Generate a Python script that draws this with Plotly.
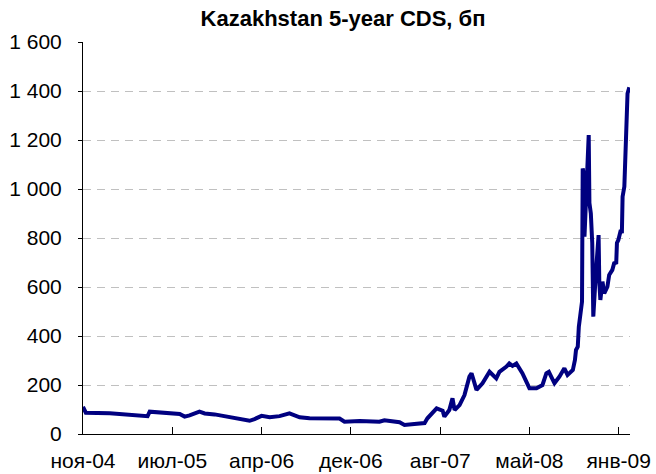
import pandas as pd
import plotly.graph_objects as go

# ---- data ----
start_date = "2004-11-20"
day_offsets = [0, 3, 8, 76, 132, 183, 189, 231, 274, 288, 302, 330, 345, 373, 401, 444, 472,
               486, 506, 529, 557, 585, 614, 642, 727, 741, 784, 840, 854, 897, 911, 939, 968,
               976, 990, 1002, 1019, 1024, 1038, 1047, 1053, 1067, 1081, 1095, 1101, 1115, 1132,
               1152, 1171, 1180, 1200, 1208, 1217, 1228, 1245, 1265, 1285, 1302, 1313, 1320,
               1336, 1350, 1364, 1373, 1388, 1394, 1397, 1402, 1405, 1410, 1414, 1416, 1419,
               1421, 1426, 1433, 1435, 1439, 1443, 1446, 1453, 1461, 1463, 1466, 1472, 1477,
               1486, 1491, 1500, 1505, 1511, 1513, 1517, 1524, 1527, 1529, 1534, 1536, 1538,
               1540, 1543, 1548]
cds_bp = [111, 98, 87, 85, 80, 73, 91, 86, 82, 71, 76, 91, 84, 80, 73, 60, 54,
          61, 74, 68, 73, 84, 68, 64, 63, 50, 53, 50, 56, 48, 37, 41, 45,
          64, 84, 105, 95, 71, 98, 146, 98, 118, 159, 234, 248, 180, 207,
          254, 227, 254, 275, 288, 278, 288, 248, 187, 187, 200, 248, 254,
          207, 234, 268, 241, 261, 302, 343, 356, 438, 506, 540, 1084, 1060,
          805, 1000, 1220, 943, 900, 780, 479, 650, 812, 620, 547, 622, 574,
          601, 649, 670, 697, 700, 780, 792, 833, 820, 969, 1010, 1132, 1140,
          1300, 1390, 1415]

tick_dates = ["2004-11-20", "2005-07-31", "2006-04-10", "2006-12-19",
              "2007-08-29", "2008-05-08", "2009-01-16"]
tick_labels = ["ноя-04", "июл-05", "апр-06", "дек-06", "авг-07", "май-08", "янв-09"]
y_ticks = [0, 200, 400, 600, 800, 1000, 1200, 1400, 1600]

title_text = "Kazakhstan 5-year CDS, бп"

dates = pd.Timestamp(start_date) + pd.to_timedelta(day_offsets, unit="D")

FONT = "Liberation Sans, Arial, sans-serif"

fig = go.Figure()
fig.add_trace(go.Scatter(
    x=dates, y=cds_bp, mode="lines",
    line=dict(color="#000080", width=4),
    showlegend=False, hoverinfo="skip",
))

fig.update_layout(
    width=656, height=474,
    margin=dict(l=83, r=26, t=42, b=40, autoexpand=False),
    paper_bgcolor="white", plot_bgcolor="white",
    separators=", ",
    font=dict(family=FONT, size=21, color="black"),
    title=dict(text="<b>" + title_text + "</b>", x=343 / 656, xref="container",
               xanchor="center", y=1 - 18 / 474, yref="container", yanchor="middle",
               font=dict(family=FONT, size=22, color="black")),
)

fig.update_xaxes(
    type="date", automargin=False,
    range=[pd.Timestamp(start_date), pd.Timestamp("2009-02-17")],
    tickmode="array", tickvals=tick_dates, ticktext=tick_labels,
    ticks="inside", ticklen=7, tickcolor="black", tickwidth=1,
    showline=True, linecolor="black", linewidth=1,
    showgrid=False, zeroline=False,
    ticklabelstandoff=8,
    tickfont=dict(family=FONT, size=21, color="black"),
)

fig.update_yaxes(
    automargin=False,
    range=[0, 1600],
    tickmode="array", tickvals=y_ticks, tickformat=",d",
    ticks="outside", ticklen=4, tickcolor="black", tickwidth=1,
    showline=True, linecolor="black", linewidth=1,
    showgrid=True, gridcolor="#c0c0c0", gridwidth=1, griddash="8px,6px",
    zeroline=False,
    ticklabelstandoff=12,
    tickfont=dict(family=FONT, size=21, color="black"),
)

fig.write_html("out.html", config={"displayModeBar": False},
               post_script="document.body.style.margin='0';")
